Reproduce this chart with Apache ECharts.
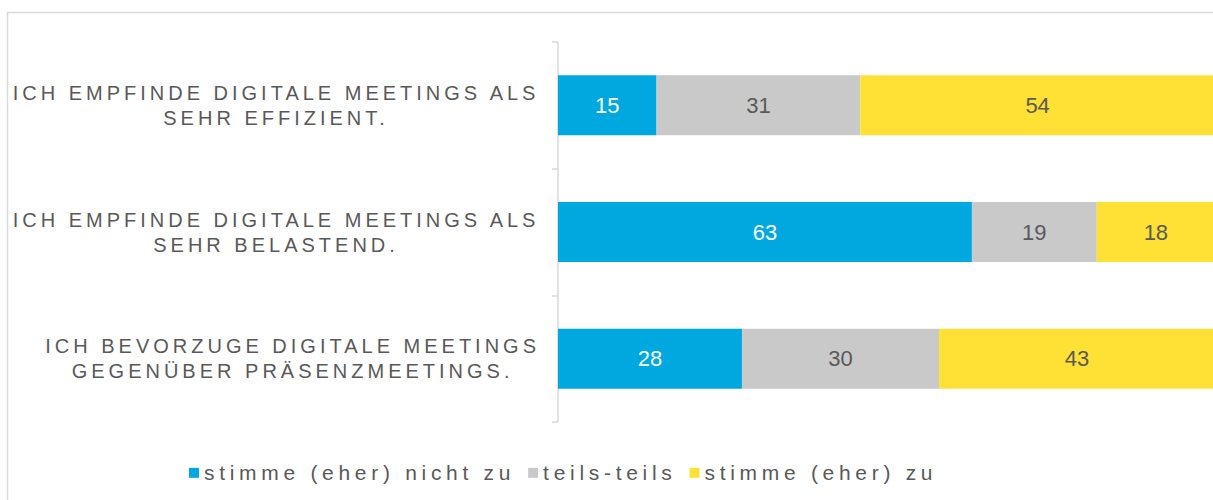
<!DOCTYPE html>
<html>
<head>
<meta charset="utf-8">
<script src="https://cdn.jsdelivr.net/npm/echarts@6/dist/echarts.min.js"></script>
<style>
    html, body { margin: 0; padding: 0; background: #fff; }
    #chart { width: 1213px; height: 500px; }
</style>
</head>
<body>
<div id="chart"></div>
<script>
// data
let categories = [
    "ICH EMPFINDE DIGITALE MEETINGS ALS\nSEHR EFFIZIENT.",
    "ICH EMPFINDE DIGITALE MEETINGS ALS\nSEHR BELASTEND.",
    "ICH BEVORZUGE DIGITALE MEETINGS\nGEGENÜBER PRÄSENZMEETINGS."
]
let seriesNames = ["stimme (eher) nicht zu", "teils-teils", "stimme (eher) zu"]
let nichtZu = [15, 63, 28]
let teilsTeils = [31, 19, 30]
let eherZu = [54, 18, 43]

let colors = ["#00a8e0", "#c9c9c9", "#ffe135"]
let textGray = "#595959"
let font = "'Liberation Sans', Arial, sans-serif"

// letter spacing per font size (px), the original text is tracked out
let spacing = {20: 4.0, 21: 4.7}

let measureCtx = document.createElement("canvas").getContext("2d")
echarts.setPlatformAPI({
    measureText: function (text, f) {
        measureCtx.font = f
        let m = measureCtx.measureText(text)
        let size = parseInt((String(f).match(/(\d+(\.\d+)?)px/) || [0, 12])[1])
        let sp = spacing[size] || 0
        return {
            width: m.width + sp * String(text).length,
            actualBoundingBoxAscent: m.actualBoundingBoxAscent,
            actualBoundingBoxDescent: m.actualBoundingBoxDescent
        }
    }
})

let chart = echarts.init(document.getElementById("chart"), null, {renderer: "svg"})

function barSeries(name, data, color, labelColor) {
    return {
        name: name,
        type: "bar",
        stack: "total",
        barWidth: 60,
        data: data,
        itemStyle: {color: color},
        label: {
            show: true,
            position: "inside",
            color: labelColor,
            fontSize: 22,
            fontFamily: font
        }
    }
}

let option = {
    animation: false,
    graphic: [{
        type: "rect",
        silent: true,
        z: -10,
        shape: {x: 7.5, y: 12.5, width: 1240, height: 540},
        style: {fill: "none", stroke: "#d9d9d9", lineWidth: 1.5}
    }],
    legend: {
        left: 189,
        top: 460,
        padding: 0,
        itemWidth: 10,
        itemHeight: 10,
        itemGap: 13,
        icon: "rect",
        textStyle: {color: textGray, fontSize: 21, fontFamily: font},
        data: seriesNames
    },
    grid: {
        left: 558,
        top: 42,
        width: 657,
        height: 380,
        outerBoundsMode: "none"
    },
    xAxis: {
        type: "value",
        min: 0,
        max: 100,
        show: false
    },
    yAxis: {
        type: "category",
        inverse: true,
        data: categories,
        axisLine: {lineStyle: {color: "#d9d9d9", width: 1.5}},
        axisTick: {show: true, length: 6, lineStyle: {color: "#d9d9d9", width: 1.5}},
        axisLabel: {
            margin: 18,
            align: "right",
            formatter: function (v) {
                return v.split("\n").map(function (l) {
                    return "{c|" + l + "}"
                }).join("\n")
            },
            rich: {
                c: {
                    align: "center",
                    color: textGray,
                    fontSize: 20,
                    lineHeight: 25,
                    fontFamily: font
                }
            }
        }
    },
    series: [
        barSeries(seriesNames[0], nichtZu, colors[0], "#ffffff"),
        barSeries(seriesNames[1], teilsTeils, colors[1], textGray),
        barSeries(seriesNames[2], eherZu, colors[2], textGray)
    ]
}

chart.setOption(option)

// apply the tracking to the svg text nodes
function applySpacing() {
    document.querySelectorAll("#chart text").forEach(function (el) {
        let size = parseFloat(getComputedStyle(el).fontSize)
        let sp = spacing[Math.round(size)]
        el.style.letterSpacing = sp ? sp + "px" : "0px"
    })
}
applySpacing()
chart.on("finished", applySpacing)
</script>
</body>
</html>
